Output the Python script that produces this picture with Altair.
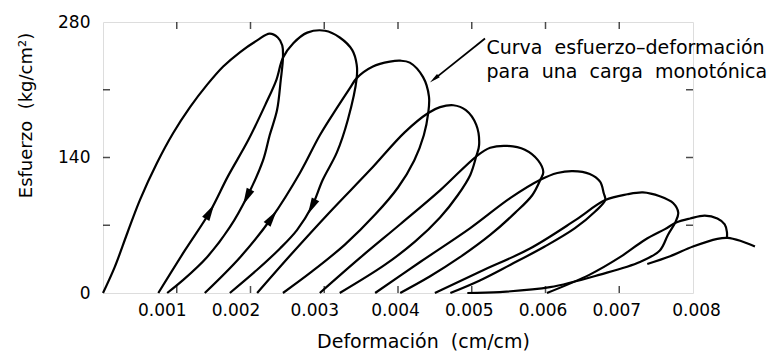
import altair as alt
import pandas as pd

# ---- data: strain in units of 1e-3 (cm/cm), stress in kg/cm2 ----
c0_def = [0.00, 0.16, 0.33, 0.50, 0.73, 0.95, 1.18, 1.41, 1.63, 1.86, 2.09, 2.26, 2.37, 2.43, 2.44, 2.41, 2.36, 2.26, 2.17, 1.95, 1.72, 1.41, 1.08, 0.87]
c0_esf = [0, 27, 62, 96, 134, 165, 192, 215, 234, 249, 261, 268, 264, 256, 243, 220, 189, 163, 137, 99, 68, 37, 13, 0]

c1_def = [0.75, 1.11, 1.45, 1.69, 1.97, 2.21, 2.35, 2.44, 2.58, 2.77, 3.01, 3.21, 3.38, 3.44, 3.44, 3.32, 3.17, 2.98, 2.83, 2.63, 2.40, 2.09, 1.72]
c1_esf = [0, 44, 84, 120, 158, 196, 220, 243, 258, 269, 271, 264, 251, 236, 222, 179, 145, 117, 89, 65, 46, 24, 0]

c2_def = [1.38, 1.86, 2.29, 2.67, 2.94, 3.17, 3.35, 3.44, 3.66, 3.89, 4.03, 4.16, 4.34, 4.42, 4.41, 4.35, 4.22, 4.00, 3.69, 3.28, 2.83, 2.44]
c2_esf = [0, 37, 78, 124, 163, 191, 212, 222, 234, 239, 240, 238, 223, 203, 186, 163, 137, 109, 81, 50, 22, 0]

c3_def = [2.09, 2.54, 3.08, 3.62, 4.09, 4.41, 4.57, 4.75, 4.92, 5.06, 5.10, 5.06, 4.98, 4.81, 4.57, 4.23, 3.82, 3.21]
c3_esf = [0, 39, 84, 127, 166, 186, 192, 194, 189, 174, 153, 141, 122, 101, 78, 53, 29, 0]

c4_def = [2.94, 3.48, 4.03, 4.57, 5.06, 5.25, 5.48, 5.72, 5.90, 5.97, 5.93, 5.82, 5.59, 5.25, 4.84, 4.43, 4.03]
c4_esf = [0, 36, 71, 106, 141, 150, 152, 148, 137, 125, 117, 101, 83, 60, 37, 17, 0]

c5_def = [3.69, 4.30, 4.98, 5.52, 5.93, 6.16, 6.37, 6.60, 6.74, 6.79, 6.81, 6.67, 6.40, 5.99, 5.52, 5.11, 4.71]
c5_esf = [0, 32, 67, 98, 117, 124, 126, 123, 115, 103, 96, 84, 67, 48, 29, 13, 0]

c6_def = [4.50, 5.11, 5.79, 6.40, 6.81, 7.11, 7.32, 7.55, 7.73, 7.80, 7.76, 7.66, 7.55, 7.28, 6.74, 6.06, 5.38, 4.94]
c6_esf = [0, 22, 46, 75, 96, 102, 104, 100, 93, 83, 73, 60, 44, 32, 19, 6, 1, 0]

c7_def = [6.02, 6.60, 7.01, 7.35, 7.62, 7.78, 7.96, 8.16, 8.33, 8.43, 8.46, 8.46]
c7_esf = [0, 19, 37, 55, 66, 73, 77, 80, 77, 71, 63, 57]

c8_def = [7.38, 7.69, 8.00, 8.33, 8.47, 8.64, 8.84]
c8_esf = [30, 38, 48, 56, 57, 54, 48]

# direction arrows on the curves
flecha_def = [1.45, 2.29, 1.95, 2.83]
flecha_esf = [84, 78, 99, 89]
flecha_ang = [30, 35, 206, 207]

# annotation
nota_lineas = ["Curva\u00a0 esfuerzo\u2013deformaci\u00f3n", "para\u00a0 una\u00a0 carga\u00a0 monot\u00f3nica"]
nota_def = [5.20, 5.20]
nota_esf = [247, 222]
nota_flecha_def = [5.18, 4.49]
nota_flecha_esf = [263, 221]

# axes
x_etiquetas = [0.001, 0.002, 0.003, 0.004, 0.005, 0.006, 0.007, 0.008]
x_marcas = [0.001, 0.002, 0.003, 0.004, 0.005, 0.006, 0.007]
y_etiquetas = [0, 140, 280]
y_marcas = [70, 140, 210]

# ---- tables ----
curvas = [(c0_def, c0_esf), (c1_def, c1_esf), (c2_def, c2_esf), (c3_def, c3_esf),
          (c4_def, c4_esf), (c5_def, c5_esf), (c6_def, c6_esf), (c7_def, c7_esf),
          (c8_def, c8_esf)]
filas = []
for i, (d, e) in enumerate(curvas):
    for j, (a, b) in enumerate(zip(d, e)):
        filas.append({"ciclo": i, "orden": j, "deformacion": a / 1000.0, "esfuerzo": b})
df = pd.DataFrame(filas)

df_fl = pd.DataFrame({"deformacion": [v / 1000.0 for v in flecha_def], "esfuerzo": flecha_esf, "ang": flecha_ang})
df_nota = pd.DataFrame({"deformacion": [v / 1000.0 for v in nota_def], "esfuerzo": nota_esf, "txt": nota_lineas})
df_nf = pd.DataFrame({"deformacion": [nota_flecha_def[0] / 1000.0], "esfuerzo": [nota_flecha_esf[0]],
                      "deformacion2": [nota_flecha_def[1] / 1000.0], "esfuerzo2": [nota_flecha_esf[1]]})
df_nh = pd.DataFrame({"deformacion": [nota_flecha_def[1] / 1000.0], "esfuerzo": [nota_flecha_esf[1]], "ang": [231]})
df_xm = pd.DataFrame({"deformacion": x_marcas})
df_ym = pd.DataFrame({"esfuerzo": y_marcas})

FONT = "DejaVu Sans"
xs = alt.Scale(domain=[0, 0.008], nice=False, zero=False)
ys = alt.Scale(domain=[0, 280], nice=False, zero=False)
xaxis = alt.Axis(values=x_etiquetas, format=".3f", ticks=False, domain=False, grid=False,
                 labelFontSize=17, labelPadding=9, labelFlush=False, labelOverlap=False,
                 labelColor="black", labelFont=FONT,
                 labelOffset={"condition": [{"test": "datum.value < 0.0025", "value": -15},
                                            {"test": "datum.value < 0.0035", "value": -10},
                                            {"test": "datum.value > 0.0075", "value": 3}],
                              "value": -3},
                 title="Deformaci\u00f3n\u00a0 (cm/cm)", titleFontSize=19, titleFontWeight="normal",
                 titleColor="black", titleFont=FONT, titleX=320, titleY=48,
                 titleBaseline="middle", titleAlign="center")
yaxis = alt.Axis(values=y_etiquetas, ticks=False, domain=False, grid=False,
                 labelFontSize=17, labelPadding=13, labelColor="black", labelFont=FONT,
                 title="Esfuerzo\u00a0 (kg/cm\u00b2)", titleFontSize=18, titleFontWeight="normal",
                 titleColor="black", titleFont=FONT, titleX=-77, titleY=93, titleAngle=270,
                 titleBaseline="middle", titleAlign="center")


def X(f="deformacion"):
    return alt.X(f + ":Q", scale=xs, axis=xaxis)


def Y(f="esfuerzo"):
    return alt.Y(f + ":Q", scale=ys, axis=yaxis)


lineas = alt.Chart(df).mark_line(color="black", strokeWidth=2.2, interpolate="catmull-rom").encode(
    x=X(), y=Y(), detail="ciclo:N", order="orden:Q")

punta = "M0,-1L0.5,1L-0.5,1Z"
flechas = alt.Chart(df_fl).mark_point(shape=punta, size=280, filled=True, color="black", opacity=1).encode(
    x=X(), y=Y(), angle=alt.Angle("ang:Q", scale=None))

nota_linea = alt.Chart(df_nf).mark_rule(color="black", strokeWidth=1.8).encode(
    x=X(), y=Y(), x2="deformacion2:Q", y2="esfuerzo2:Q")
nota_punta = alt.Chart(df_nh).mark_point(shape="M0,-1L0.4,1L-0.4,1Z", size=120, filled=True,
                                          color="black", opacity=1).encode(
    x=X(), y=Y(), angle=alt.Angle("ang:Q", scale=None))
nota_txt = alt.Chart(df_nota).mark_text(align="left", baseline="alphabetic", fontSize=19, font=FONT,
                                         color="black").encode(x=X(), y=Y(), text="txt:N")

m_inf = alt.Chart(df_xm).mark_tick(orient="vertical", size=7, thickness=1.5, yOffset=-3.5, color="black").encode(
    x=X(), y=alt.datum(0, scale=ys))
m_sup = alt.Chart(df_xm).mark_tick(orient="vertical", size=7, thickness=1.5, yOffset=3.5, color="black").encode(
    x=X(), y=alt.datum(280, scale=ys))
m_izq = alt.Chart(df_ym).mark_tick(orient="horizontal", size=7, thickness=1.5, xOffset=3.5, color="black").encode(
    y=Y(), x=alt.datum(0, scale=xs))
m_der = alt.Chart(df_ym).mark_tick(orient="horizontal", size=7, thickness=1.5, xOffset=-3.5, color="black").encode(
    y=Y(), x=alt.datum(0.008, scale=xs))

chart = alt.layer(lineas, flechas, nota_linea, nota_punta, nota_txt, m_inf, m_sup, m_izq, m_der).properties(
    width=590, height=271,
    autosize=alt.AutoSizeParams(type="none"),
    padding={"left": 103, "top": 22, "right": 86, "bottom": 63},
    background="white",
).configure_view(stroke="black", strokeWidth=2.2).configure(font=FONT)

chart.save("out.html", embed_options={"renderer": "svg", "actions": False})
